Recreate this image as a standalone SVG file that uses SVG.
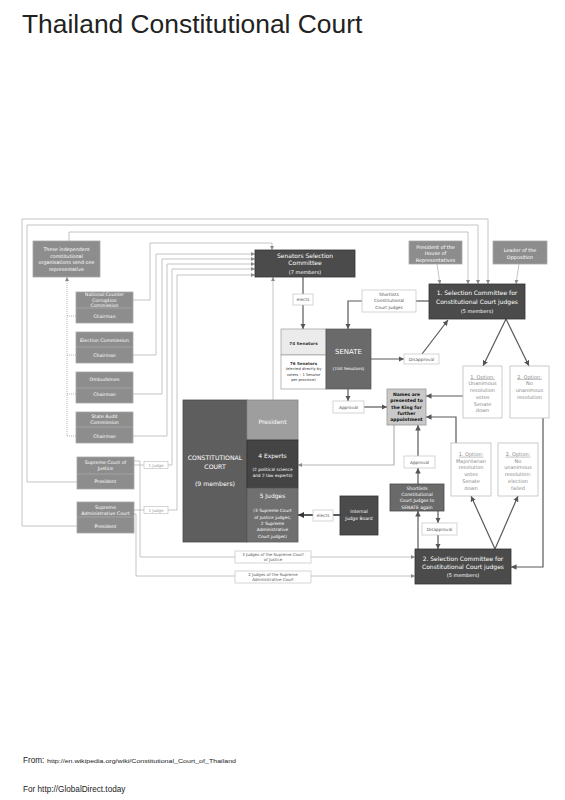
<svg xmlns="http://www.w3.org/2000/svg" width="565" height="800" viewBox="0 0 565 800">
<style>
text{font-family:"DejaVu Sans",Verdana,sans-serif;text-anchor:middle}
.w{fill:#fff}
.org{fill:#8d8d8d;stroke:#a8a8a8;stroke-width:0.8}
.dk{fill:#4b4b4b;stroke:#333;stroke-width:0.8}
.lbl{fill:#fff;stroke:#c4c4c4;stroke-width:0.7}
.lt{fill:#555}
.opt{fill:#fff;stroke:#bdbdbd;stroke-width:0.8}
.ot{fill:#8a8a8a;font-size:5px}
.lg{fill:none;stroke:#b5b5b5;stroke-width:0.8}
.dg{fill:none;stroke:#595959;stroke-width:1.2}
.dot{fill:none;stroke:#9a9a9a;stroke-width:0.7;stroke-dasharray:1,1}
.ft{font-family:"Liberation Sans",Arial,sans-serif;text-anchor:start;fill:#222}
</style>
<defs>
<marker id="a" viewBox="0 0 10 10" refX="10" refY="5" markerWidth="4" markerHeight="4" markerUnits="userSpaceOnUse" orient="auto"><path d="M0,0L10,5L0,10z" fill="#8a8a8a"/></marker>
<marker id="d" viewBox="0 0 10 10" refX="10" refY="5" markerWidth="5.5" markerHeight="5.5" markerUnits="userSpaceOnUse" orient="auto"><path d="M0,0L10,5L0,10z" fill="#555"/></marker>
<marker id="k" viewBox="0 0 10 10" refX="10" refY="5" markerWidth="6" markerHeight="6" markerUnits="userSpaceOnUse" orient="auto"><path d="M0,0L10,5L0,10z" fill="#333"/></marker>
</defs>
<rect width="565" height="800" fill="#fff"/>
<text x="22" y="33" class="ft" style="font-size:26.4px" fill="#111">Thailand Constitutional Court</text>

<g id="connectors">
<path class="lg" d="M77,526H22V219H488V284" marker-end="url(#a)"/>
<path class="lg" d="M77,482H27V225H478V284" marker-end="url(#a)"/>
<path class="lg" d="M69,241V232H468V284" marker-end="url(#a)"/>
<path class="lg" d="M133,300H150V243H272V250" marker-end="url(#a)"/>
<path class="lg" d="M133,355H156V254H255" marker-end="url(#a)"/>
<path class="lg" d="M133,394H162V259H255" marker-end="url(#a)"/>
<path class="lg" d="M133,436H167V264H255" marker-end="url(#a)"/>
<path class="lg" d="M134,465H144"/>
<path class="lg" d="M168,465H172V269H255" marker-end="url(#a)"/>
<path class="lg" d="M134,510H144"/>
<path class="lg" d="M168,510H177V275H255" marker-end="url(#a)"/>
<path class="lg" d="M273,400V277" marker-end="url(#a)"/>
<path class="dot" d="M67,436V277" marker-end="url(#a)"/>
<path class="dot" d="M67,316H76M67,355H76M67,394H76M67,436H76"/>
<path class="lg" d="M134,461H140V557H235"/>
<path class="lg" d="M311,557H415" marker-end="url(#a)"/>
<path class="lg" d="M134,514H136V576H235"/>
<path class="lg" d="M311,576H415" marker-end="url(#a)"/>
<path class="lg" style="stroke-width:1.2" d="M394,425V465H298" marker-end="url(#a)"/>
<path class="lg" d="M437,264L440,284" marker-end="url(#a)"/>
<path class="lg" d="M519,264L516,284" marker-end="url(#a)"/>

<path class="dg" d="M303,277V294"/>
<path class="dg" d="M303,305V329" marker-end="url(#d)"/>
<path class="dg" d="M429,301H416"/>
<path class="dg" d="M362,301H348V329" marker-end="url(#d)"/>
<path class="dg" d="M371,359H404" marker-end="url(#d)"/>
<path class="dg" d="M422,354L448,320" marker-end="url(#d)"/>
<path class="dg" d="M348,389V401" marker-end="url(#d)"/>
<path class="dg" d="M364,407H387" marker-end="url(#d)"/>
<path class="dg" d="M506,319L483,366" marker-end="url(#d)"/>
<path class="dg" d="M506,319L529,366" marker-end="url(#d)"/>
<path class="dg" d="M463,396H426" marker-end="url(#d)"/>
<path class="dg" d="M456,443V417H426" marker-end="url(#d)"/>
<path class="dg" d="M543,418V567H511" marker-end="url(#d)"/>
<path class="dg" d="M495,549L471,496" marker-end="url(#d)"/>
<path class="dg" d="M495,549L518,496" marker-end="url(#d)"/>
<path class="dg" d="M418,549V511" marker-end="url(#d)"/>
<path class="dg" d="M418,484V468" marker-end="url(#d)"/>
<path class="dg" d="M418,456V425" marker-end="url(#d)"/>
<path class="dg" d="M438,511V523" marker-end="url(#d)"/>
<path class="dg" d="M438,535V549" marker-end="url(#d)"/>
<path class="dg" style="stroke:#333;stroke-width:1.6" d="M340,515H333"/>
<path class="dg" style="stroke:#333;stroke-width:1.6" d="M313,515H298" marker-end="url(#k)"/>
</g>

<g id="independent">
<rect class="org" x="33" y="241" width="67" height="36"/>
<g class="w" style="font-size:4.8px"><text x="66.5" y="251">These independent</text><text x="66.5" y="257.5">constitutional</text><text x="66.5" y="264">organisations send one</text><text x="66.5" y="270.5">representative</text></g>
</g>

<g id="nccc">
<rect class="org" x="76" y="292" width="57" height="31"/><path d="M76,308H133" stroke="#a8a8a8" stroke-width="0.8"/>
<g class="w" style="font-size:4.6px"><text x="104.5" y="295.5">National Counter</text><text x="104.5" y="301.5">Corruption</text><text x="104.5" y="307.3">Commission</text><text x="104.5" y="317.5">Chairman</text></g>
</g>
<g id="election">
<rect class="org" x="76" y="332" width="57" height="31"/><path d="M76,347H133" stroke="#a8a8a8" stroke-width="0.8"/>
<g class="w" style="font-size:4.7px"><text x="104.5" y="341.5">Election Commission</text><text x="104.5" y="356.5">Chairman</text></g>
</g>
<g id="ombudsmen">
<rect class="org" x="76" y="372" width="57" height="31"/><path d="M76,388H133" stroke="#a8a8a8" stroke-width="0.8"/>
<g class="w" style="font-size:4.7px"><text x="104.5" y="381">Ombudsmen</text><text x="104.5" y="396">Chairman</text></g>
</g>
<g id="audit">
<rect class="org" x="76" y="412" width="57" height="31"/><path d="M76,427H133" stroke="#a8a8a8" stroke-width="0.8"/>
<g class="w" style="font-size:4.7px"><text x="104.5" y="417.8">State Audit</text><text x="104.5" y="423.8">Commission</text><text x="104.5" y="437.5">Chairman</text></g>
</g>
<g id="scj">
<rect class="org" x="77" y="457" width="57" height="32"/><path d="M77,474H134" stroke="#a8a8a8" stroke-width="0.8"/>
<g class="w" style="font-size:4.7px"><text x="105.5" y="463.8">Supreme Court of</text><text x="105.5" y="470.3">Justice</text><text x="105.5" y="483">President</text></g>
</g>
<g id="sac">
<rect class="org" x="77" y="502" width="57" height="31"/><path d="M77,517H134" stroke="#a8a8a8" stroke-width="0.8"/>
<g class="w" style="font-size:4.7px"><text x="105.5" y="508.6">Supreme</text><text x="105.5" y="514.6">Administrative Court</text><text x="105.5" y="527.5">President</text></g>
</g>

<g id="judge1a"><rect class="lbl" x="144" y="461.5" width="24" height="7"/><text x="156" y="466.8" style="font-size:4px;fill:#999">1 Judge</text></g>
<g id="judge1b"><rect class="lbl" x="144" y="506.5" width="24" height="7"/><text x="156" y="511.8" style="font-size:4px;fill:#999">1 Judge</text></g>

<g id="senatorsSel">
<rect class="dk" x="255" y="250" width="100" height="27"/>
<g class="w"><text x="305" y="257.5" style="font-size:6px">Senators Selection</text><text x="305" y="265.3" style="font-size:6px">Committee</text><text x="305" y="273.8" style="font-size:5px">(7 members)</text></g>
</g>
<g id="elects1"><rect class="lbl" x="293" y="294" width="20" height="11"/><text class="lt" x="303" y="301.3" style="font-size:4.3px">elects</text></g>

<g id="senate">
<rect x="281" y="329" width="45" height="26" fill="#ebebeb" stroke="#9a9a9a" stroke-width="0.7"/>
<rect x="281" y="355" width="45" height="34" fill="#fff" stroke="#9a9a9a" stroke-width="0.7"/>
<rect x="326" y="329" width="45" height="60" fill="#6a6a6a" stroke="#555" stroke-width="0.7"/>
<g style="font-size:4px;fill:#333"><text x="303.5" y="344.5" style="font-weight:bold;font-size:4.2px">74 Senators</text><text x="303.5" y="365.3" style="font-weight:bold">76 Senators</text><text x="303.5" y="370.3" style="font-size:3.7px">(elected directly by</text><text x="303.5" y="376" style="font-size:3.7px">voters – 1 Senator</text><text x="303.5" y="381.3" style="font-size:3.7px">per province)</text></g>
<g class="w"><text x="348.5" y="354" style="font-size:7px">SENATE</text><text x="348.5" y="369.8" style="font-size:4.2px;font-family:'DejaVu Serif',serif">(150 Senators)</text></g>
</g>

<g id="shortlists1"><rect class="lbl" x="362" y="290" width="54" height="22"/><g class="lt" style="font-size:4.3px"><text x="389" y="295.8">Shortlists</text><text x="389" y="302.3">Constitutional</text><text x="389" y="308.8">Court Judges</text></g></g>

<g id="presHouse"><rect class="org" x="409" y="241" width="53" height="23"/><g class="w" style="font-size:4.9px"><text x="435.5" y="248.7">President of the</text><text x="435.5" y="255.2">House of</text><text x="435.5" y="261.7">Representatives</text></g></g>
<g id="leader"><rect class="org" x="493" y="241" width="54" height="23"/><g class="w" style="font-size:4.9px"><text x="520" y="252">Leader of the</text><text x="520" y="258.8">Opposition</text></g></g>

<g id="committee1">
<rect class="dk" x="429" y="284" width="96" height="35"/>
<g class="w"><text x="477" y="295.2" style="font-size:6px">1. Selection Committee for</text><text x="477" y="304.2" style="font-size:6px">Constitutional Court judges</text><text x="477" y="312.5" style="font-size:5px">(5 members)</text></g>
</g>

<g id="disapproval1"><rect class="lbl" x="404" y="354" width="35" height="10"/><text class="lt" x="421.5" y="360.6" style="font-size:4.3px">Disapproval</text></g>
<g id="approval1"><rect class="lbl" x="333" y="401" width="31" height="12"/><text class="lt" x="348.5" y="408.6" style="font-size:4.3px">Approval</text></g>

<g id="names">
<rect x="387" y="389" width="39" height="36" fill="#c9c9c9" stroke="#9a9a9a" stroke-width="0.8"/>
<g style="font-size:4.5px;font-weight:bold;fill:#111"><text x="406.5" y="395.6">Names are</text><text x="406.5" y="402">presented to</text><text x="406.5" y="408.5">the King for</text><text x="406.5" y="414.6">further</text><text x="406.5" y="420.6">appointment</text></g>
</g>

<g id="option1a"><rect class="opt" x="463" y="366" width="39" height="52"/><g class="ot"><text x="482.5" y="378.5" text-decoration="underline">1. Option:</text><text x="482.5" y="385.3">Unanimous</text><text x="482.5" y="392">resolution</text><text x="482.5" y="398.8">votes</text><text x="482.5" y="405.6">Senate</text><text x="482.5" y="412.4">down</text></g></g>
<g id="option2a"><rect class="opt" x="510" y="366" width="39" height="52"/><g class="ot"><text x="529.5" y="378.5" text-decoration="underline">2. Option:</text><text x="529.5" y="385.3">No</text><text x="529.5" y="392">unanimous</text><text x="529.5" y="398.8">resolution</text></g></g>
<g id="option1b"><rect class="opt" x="451" y="443" width="40" height="53"/><g class="ot"><text x="471" y="455.8" text-decoration="underline">1. Option:</text><text x="471" y="462.5">Majoritarian</text><text x="471" y="469.3">resolution</text><text x="471" y="476">votes</text><text x="471" y="482.8">Senate</text><text x="471" y="489.6">down</text></g></g>
<g id="option2b"><rect class="opt" x="498" y="443" width="40" height="53"/><g class="ot"><text x="518" y="455.8" text-decoration="underline">2. Option:</text><text x="518" y="462.5">No</text><text x="518" y="469.3">unanimous</text><text x="518" y="476">resolution:</text><text x="518" y="482.8">election</text><text x="518" y="489.6">failed</text></g></g>

<g id="approval2"><rect class="lbl" x="404" y="456" width="31" height="12"/><text class="lt" x="419.5" y="463.6" style="font-size:4.3px">Approval</text></g>
<g id="shortlists2">
<rect x="390" y="484" width="54" height="27" fill="#6a6a6a" stroke="#4a4a4a" stroke-width="0.8"/>
<g class="w" style="font-size:4.5px"><text x="417" y="489.8">Shortlists</text><text x="417" y="495.9">Constitutional</text><text x="417" y="502.4">Court Judges to</text><text x="417" y="508.8">SENATE again</text></g>
</g>
<g id="disapproval2"><rect class="lbl" x="422" y="523" width="35" height="12"/><text class="lt" x="439.5" y="530.6" style="font-size:4.3px">Disapproval</text></g>

<g id="committee2">
<rect class="dk" x="415" y="549" width="96" height="35"/>
<g class="w"><text x="463" y="560.5" style="font-size:6px">2. Selection Committee for</text><text x="463" y="569" style="font-size:6px">Constitutional Court judges</text><text x="463" y="577.3" style="font-size:5px">(5 members)</text></g>
</g>

<g id="court">
<rect x="183" y="400" width="64" height="142" fill="#5e5e5e" stroke="#4a4a4a" stroke-width="0.8"/>
<g class="w" style="font-size:6.2px"><text x="215" y="459.6">CONSTITUTIONAL</text><text x="215" y="468.6">COURT</text><text x="215" y="485.8">(9 members)</text></g>
</g>
<g id="president"><rect x="247" y="400" width="51" height="40" fill="#9e9e9e" stroke="#888" stroke-width="0.8"/><text class="w" x="272.5" y="423.5" style="font-size:6px">President</text></g>
<g id="experts"><rect x="247" y="440" width="51" height="48" fill="#444" stroke="#333" stroke-width="0.8"/><g class="w"><text x="272.5" y="458.2" style="font-size:6px">4 Experts</text><text x="272.5" y="471" style="font-size:4.3px">(2 political science</text><text x="272.5" y="477" style="font-size:4.3px">and 2 law experts)</text></g></g>
<g id="judges5"><rect x="247" y="488" width="51" height="54" fill="#707070" stroke="#5a5a5a" stroke-width="0.8"/><g class="w"><text x="272.5" y="497.6" style="font-size:6px">5 Judges</text><g style="font-size:4.3px"><text x="272.5" y="512.2">(3 Supreme Court</text><text x="272.5" y="518.5">of Justice judges;</text><text x="272.5" y="524.8">2 Supreme</text><text x="272.5" y="531.2">Administrative</text><text x="272.5" y="537.5">Court judges)</text></g></g></g>

<g id="internal"><rect class="dk" x="340" y="496" width="38" height="39" fill="#444"/><g class="w" style="font-size:4.5px"><text x="359" y="513.3">Internal</text><text x="359" y="519.9">Judge Board</text></g></g>
<g id="elects2"><rect class="lbl" x="313" y="510" width="20" height="11"/><text class="lt" x="323" y="517.2" style="font-size:4.3px">elects</text></g>

<g id="judges3"><rect class="lbl" x="235" y="551" width="76" height="12"/><g class="lt" style="font-size:4px"><text x="273" y="555.8">3 Judges of the Supreme Court</text><text x="273" y="561.3">of Justice</text></g></g>
<g id="judges2"><rect class="lbl" x="235" y="571" width="76" height="12"/><g class="lt" style="font-size:4px"><text x="273" y="575.6">2 Judges of the Supreme</text><text x="273" y="581.2">Administrative Court</text></g></g>

<g id="footer">
<text x="23" y="763" class="ft" style="font-size:8.2px">From:</text>
<text x="47" y="763" class="ft" style="font-size:6.2px" textLength="189" lengthAdjust="spacingAndGlyphs">http://en.wikipedia.org/wiki/Constitutional_Court_of_Thailand</text>
<text x="23" y="792" class="ft" style="font-size:8.2px">For http://GlobalDirect.today</text>
</g>
</svg>
